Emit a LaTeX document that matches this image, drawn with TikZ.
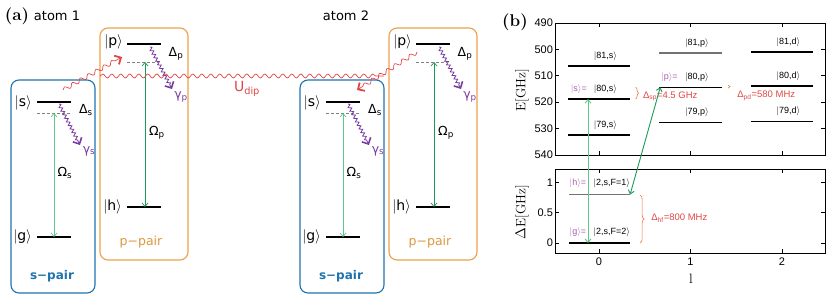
\documentclass[tikz,border=0pt]{standalone}
\usepackage{fontspec}
\usetikzlibrary{arrows.meta, calc, decorations.pathmorphing, decorations.pathreplacing}
\newfontfamily\levfont{DejaVu Sans}
\newfontfamily\plotfont{Liberation Sans}
\definecolor{spairblue} {RGB}{ 30,115,175}
\definecolor{ppairorng} {RGB}{238,160, 72}
\definecolor{ptextorng} {RGB}{222,150, 60}
\definecolor{omsgreen}  {RGB}{ 95,200,135}
\definecolor{ompgreen}  {RGB}{ 25,155, 85}
\definecolor{decaypurp} {RGB}{120, 60,160}
\definecolor{dipred}    {RGB}{225, 70, 70}
\definecolor{ketpurp}   {RGB}{165, 95,170}
\definecolor{braceorng} {RGB}{236,120, 70}
\newcommand{\ket}[1]{$\vert$#1$\rangle$}
\tikzset{
  panel tag/.style = {font=\bfseries\fontsize{17}{19}\selectfont, inner sep=0pt},
  atom title/.style= {font=\levfont\fontsize{13}{15}\selectfont, inner sep=0pt},
  pair box/.style  = {rounded corners=8pt, line width=1.1pt},
  level/.style     = {line width=1.4pt},
  detuned/.style   = {gray, densely dashed, line width=0.5pt},
  ket/.style       = {font=\levfont\fontsize{14}{16}\selectfont, inner sep=0pt},
  greek/.style     = {font=\levfont\fontsize{12.5}{14}\selectfont, inner sep=0pt},
  rabi/.style      = {<->, >={Straight Barb[length=3.5pt, width=6pt]}, line width=0.7pt},
  decay/.style     = {decaypurp, line width=0.8pt, decorate,
                      decoration={snake, amplitude=1.6pt, segment length=4pt, post length=4pt},
                      -{Straight Barb[angle=90:7pt, line width=1.6pt]}},
  dip line/.style  = {dipred, line width=0.7pt, decorate,
                      decoration={snake, amplitude=2pt, segment length=9pt, post length=4pt}},
  dip tip/.style   = {-{Straight Barb[angle=90:7pt, line width=1.8pt]}},
  frame/.style     = {line width=0.9pt},
  tick label/.style= {font=\plotfont\fontsize{11}{13}\selectfont, inner sep=0pt},
  axis name/.style = {font=\fontsize{13.5}{15}\selectfont, inner sep=0pt},
  plot level/.style= {line width=1.3pt},
  lev label/.style = {font=\plotfont\fontsize{9}{11}\selectfont, inner sep=0pt},
  anno/.style      = {dipred, font=\plotfont\fontsize{9.5}{11}\selectfont, inner sep=0pt},
  brace deco/.style= {braceorng, line width=0.6pt, decorate, decoration={brace, amplitude=3pt}},
  plot rabi/.style = {<->, >={Straight Barb[length=3.5pt, width=6pt]}, line width=0.9pt},
}

\begin{document}
\begin{tikzpicture}[x=1pt, y=-1pt]
  \useasboundingbox (0,0) rectangle (830,294);

  % ---- (a) two atoms ------------------------------------------------------
  \node[panel tag] (tag a) at (17,16) {(a)};

  \foreach \atom/\dx in {1/0, 2/289}{
    \begin{scope}[xshift=\dx, name prefix=atom\atom-]
      \node[atom title] (title) at (57,16) {atom \atom};

      % pair boxes
      \draw[pair box, spairblue] (11,80) rectangle (95,293);
      \node[font=\levfont\bfseries\fontsize{12}{14}\selectfont, spairblue] (s pair) at (52,276) {s−pair};
      \draw[pair box, ppairorng] (100,28) rectangle (188,260);
      \node[font=\levfont\fontsize{12.5}{14}\selectfont, ptextorng] (p pair) at (141,242) {p−pair};

      % levels
      \draw[level] (37,102) -- (71,102);
      \draw[detuned] (37,113) -- (72,113);
      \draw[level] (37,237) -- (71,237);
      \draw[level] (127,44) -- (161,44);
      \draw[detuned] (127,62) -- (158,62);
      \draw[level] (127,207) -- (161,207);
      \node[ket, anchor=east] (s) at (32,103) {\ket{s}};
      \node[ket, anchor=east] (g) at (32,237) {\ket{g}};
      \node[ket, anchor=east] (p) at (123,42) {\ket{p}};
      \node[ket, anchor=east] (h) at (122,207) {\ket{h}};
      \node[greek] (Del s) at (86,110) {Δ\textsubscript{s}};
      \node[greek] (Del p) at (176,54) {Δ\textsubscript{p}};

      % drives
      \coordinate (s drive) at (54,113);
      \coordinate (g drive) at (54,237);
      \draw[rabi, omsgreen] (s drive) -- (g drive);
      \node[greek] (Om s) at (65,173) {Ω\textsubscript{s}};
      \coordinate (p drive) at (145,62);
      \coordinate (h drive) at (145,207);
      \draw[rabi, ompgreen] (p drive) -- (h drive);
      \node[greek] (Om p) at (157,133) {Ω\textsubscript{p}};

      % decay
      \coordinate (s decay) at (59,104);
      \coordinate (s loss) at (80,145);
      \draw[decay] (s decay) -- (s loss);
      \node[greek, decaypurp] (gam s) at (89,151) {γ\textsubscript{s}};
      \coordinate (p decay) at (150,47);
      \coordinate (p loss) at (172,89);
      \draw[decay] (p decay) -- (p loss);
      \node[greek, decaypurp] (gam p) at (181,97) {γ\textsubscript{p}};
    \end{scope}
  }

  % dipole coupling
  \coordinate (dip s1) at (63,90);
  \coordinate (dip p1) at (122,57);
  \draw[dip line, dip tip] (dip s1) -- (dip p1);
  \coordinate (dip left) at (100,76);
  \coordinate (dip right) at (384,76);
  \draw[dip line] (dip left) -- (dip right);
  \coordinate (dip p2) at (417,52);
  \coordinate (dip s2) at (357,90);
  \draw[dip line, dip tip] (dip p2) -- (dip s2);
  \node[font=\levfont\fontsize{14}{16}\selectfont, dipred, inner sep=0pt] (udip) at (247,89) {U\textsubscript{dip}};

  % ---- (b) level scheme ---------------------------------------------------
  \node[panel tag] (tag b) at (515,22) {(b)};
  \node[axis name, rotate=90] (E name) at (522,90) {E[GHz]};
  \node[axis name, rotate=90] (dE name) at (522,212) {$\Delta$E[GHz]};
  \node[axis name] (l name) at (691,279) {l};

  % Rydberg levels
  \begin{scope}[shift={(599,23)}, x=91.5pt, y=-2.64pt]
    \draw[frame] (-0.48,0) rectangle (2.47,50);
    \foreach \E in {490,500,...,540}{
      \draw[frame] (-0.48,{\E-490}) -- ++(4pt,0);
      \draw[frame] (2.47,{\E-490}) -- ++(-4pt,0);
      \node[tick label, anchor=east, xshift=-2pt] (E\E) at (-0.48,{\E-490}) {\E};
    }
    \foreach \l in {0,1,2}{
      \draw[frame] (\l,0) -- ++(0,-4pt);
      \draw[frame] (\l,50) -- ++(0,4pt);
    }
    \foreach \l/\orb/\n/\E/\c in {0/s/81/506.3/black, 0/s/80/518.8/black, 0/s/79/532.4/black,
        1/p/81/501.4/black!55, 1/p/80/514.3/black, 1/p/79/527.6/black,
        2/d/81/501.0/black, 2/d/80/513.9/black, 2/d/79/527.2/black}{
      \draw[plot level, \c] ({\l-0.34},{\E-490}) -- ({\l+0.34},{\E-490});
      \node[lev label, yshift=10pt] (\orb\n) at ({\l+0.07},{\E-490}) {\ket{\n,\orb}};
    }
    \node[lev label, ketpurp, yshift=10pt] (s is) at (-0.22,28.8) {\ket{s}=};
    \node[lev label, ketpurp, yshift=10pt] (p is) at (0.77,24.3) {\ket{p}=};
    \coordinate (s80 drive) at (-0.12,28.8);
    \coordinate (p80 drive) at (0.67,24.3);

    % splittings
    \draw[brace deco] (0.40,24.3) -- (0.40,28.8);
    \node[anno, anchor=west] (sp gap) at (0.48,27.9) {Δ\textsubscript{sp}=4.5 GHz};
    \draw[brace deco, decoration={brace, amplitude=2pt}] (1.41,23.5) -- (1.41,24.7);
    \node[anno, anchor=west] (pd gap) at (1.51,27.7) {Δ\textsubscript{pd}=580 MHz};
  \end{scope}

  % ground hyperfine levels
  \begin{scope}[shift={(599,243)}, x=91.5pt, y=60.6pt]
    \draw[frame] (-0.48,-0.165) rectangle (2.47,1.22);
    \foreach \v in {0,0.5,1}{
      \draw[frame] (-0.48,\v) -- ++(4pt,0);
      \draw[frame] (2.47,\v) -- ++(-4pt,0);
      \node[tick label, anchor=east, xshift=-2pt] (dE\v) at (-0.48,\v) {\v};
    }
    \foreach \l in {0,1,2}{
      \draw[frame] (\l,-0.165) -- ++(0,4pt);
      \draw[frame] (\l,1.22) -- ++(0,-4pt);
      \node[tick label, anchor=north, yshift=-5pt] (l\l) at (\l,-0.165) {\l};
    }
    \draw[plot level, black!55] (-0.33,0.8) -- (0.34,0.8);
    \draw[plot level] (-0.33,0) -- (0.34,0);
    \node[lev label, ketpurp, yshift=11pt] (h is) at (-0.23,0.8) {\ket{h}=};
    \node[lev label, yshift=11pt] (h full) at (0.14,0.8) {\ket{2,s,F=1}};
    \node[lev label, ketpurp, yshift=11pt] (g is) at (-0.23,0) {\ket{g}=};
    \node[lev label, yshift=11pt] (g full) at (0.14,0) {\ket{2,s,F=2}};
    \coordinate (g drive) at (-0.12,0);
    \coordinate (h drive) at (0.34,0.8);

    \draw[brace deco, decoration={brace, amplitude=4pt}] (0.45,0.79) -- (0.45,0.0);
    \node[anno, anchor=west] (hf gap) at (0.57,0.41) {Δ\textsubscript{hf}=800 MHz};
  \end{scope}

  % laser couplings
  \draw[plot rabi, omsgreen] (s80 drive) -- (g drive);
  \draw[plot rabi, ompgreen] (h drive) -- (p80 drive);

\end{tikzpicture}
\end{document}
